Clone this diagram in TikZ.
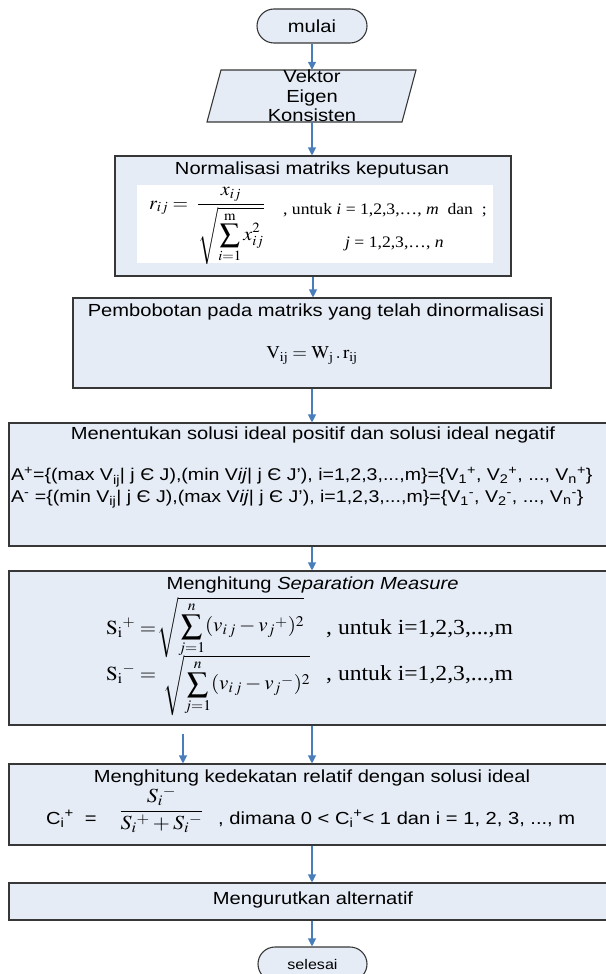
\documentclass[tikz,border=0pt]{standalone}
\usepackage{graphicx}
\usepackage{mathptmx}
\usepackage[no-math]{fontspec}
\setmainfont[FakeStretch=1.15]{Liberation Sans}
\newfontfamily\tnr[FakeStretch=1.1]{Liberation Serif}
\usetikzlibrary{arrows.meta}
\definecolor{boxfill}{RGB}{229,236,246}
\definecolor{boxline}{RGB}{55,55,55}
\definecolor{arrowblue}{RGB}{74,126,187}
\tikzset{
  procbox/.style={draw=boxline, fill=boxfill, line width=1.1pt, inner sep=0pt},
  term/.style={procbox, rounded corners=17pt},
  txt/.style={inner sep=0pt, font=\fontsize{17.5}{19.5}\selectfont, text=black},
  settxt/.style={inner sep=0pt, font=\fontsize{17}{19}\selectfont, text=black},
  smalltxt/.style={inner sep=0pt, font=\fontsize{14}{16}\selectfont, text=black},
  serif/.style={inner sep=0pt, font=\tnr\fontsize{21.5}{24}\selectfont},
  mathtxt/.style={inner sep=0pt, font=\fontsize{20}{24}\selectfont},
  flow/.style={draw=arrowblue, line width=1.1pt, -{Triangle[length=8pt,width=8pt]}},
}
\begin{document}
\begin{tikzpicture}[x=1pt,y=-1pt]
\useasboundingbox (0,0) rectangle (605,974);

% start
\node[term, txt, minimum width=110pt, minimum height=34pt] (mulai) at (312,26) {mulai};

% input parallelogram
\draw[procbox] (221,70) -- (416,70) -- (402,122) -- (207,122) -- cycle;
\node[txt, align=center, minimum height=52pt] (para) at (312,96) {Vektor\\Eigen\\Konsisten};

% normalisation
\node[procbox, minimum width=396pt, minimum height=120pt] (norm) at (313,216) {};
\node[txt] (normtitle) at (312,170) {Normalisasi matriks keputusan};
\node[fill=white, inner sep=0pt, minimum width=356pt, minimum height=78pt] (normimg) at (315,224) {};
\begin{scope}
  \clip (137,185) rectangle (493,263);
  \node[inner sep=0pt, anchor=base west, font=\fontsize{19}{22}\selectfont] (rform) at (149,209)
    {\scalebox{1.05}[1]{$\displaystyle r_{ij} = \;\frac{x_{ij}}{\sqrt{\displaystyle\sum_{i=1}^{\mathrm{m}} x_{ij}^{2}}}$}};
\end{scope}
\node[inner sep=0pt, anchor=base west, font=\tnr\fontsize{16}{19}\selectfont] (untuka) at (283,214)
  {, untuk \textit{i} = 1,2,3,…, \textit{m}~ dan~ ;};
\node[inner sep=0pt, anchor=base west, font=\tnr\fontsize{16}{19}\selectfont] (untukb) at (345,247)
  {\textit{j} = 1,2,3,…, \textit{n}};

% weighting
\node[procbox, minimum width=478pt, minimum height=90pt] (pemb) at (312,343) {};
\node[txt] (pembtitle) at (316,312) {Pembobotan pada matriks yang telah dinormalisasi};
\node[inner sep=0pt, font=\fontsize{18}{21}\selectfont] (vform) at (312,355)
  {\scalebox{1.05}[1]{$\mathrm{V_{ij} = W_{j}\,.\,r_{ij}}$}};

% ideal solutions
\node[procbox, minimum width=606pt, minimum height=123pt] (ment) at (312,484.5) {};
\node[txt] (menttitle) at (313,435) {Menentukan solusi ideal positif dan solusi ideal negatif};
\node[settxt, anchor=west] (aplus) at (11,477)
  {A\textsuperscript{+}=\{(max V\textsubscript{ij}| j Є J),(min V\textit{ij}| j Є J’), i=1,2,3,...,m\}=\{V\textsubscript{1}\textsuperscript{+}, V\textsubscript{2}\textsuperscript{+}, ..., V\textsubscript{n}\textsuperscript{+}\}};
\node[settxt, anchor=west] (aminus) at (11,499)
  {A\textsuperscript{-} =\{(min V\textsubscript{ij}| j Є J),(max V\textit{ij}| j Є J’), i=1,2,3,...,m\}=\{V\textsubscript{1}\textsuperscript{-}, V\textsubscript{2}\textsuperscript{-}, ..., V\textsubscript{n}\textsuperscript{-}\}};

% separation measure
\node[procbox, minimum width=606pt, minimum height=154pt] (sep) at (312,648) {};
\node[txt] (septitle) at (312.5,585) {Menghitung \textit{Separation Measure}};
\node[mathtxt, anchor=base west] (splab) at (106,634)
  {\scalebox{1.05}[1]{$\mathrm{S_{i}}^{+} =$}};
\node[mathtxt, anchor=north west] (sproot) at (157,597)
  {\scalebox{1.05}[1]{$\displaystyle \sqrt{\sum_{j=1}^{n}(v_{i\,j}-v_{j}{}^{+})^{2}}$}};
\node[serif, anchor=base west] (untukc) at (326,634) {, untuk i=1,2,3,...,m};
\node[mathtxt, anchor=base west] (smlab) at (106,680)
  {\scalebox{1.05}[1]{$\mathrm{S_{i}}^{-} =$}};
\node[mathtxt, anchor=north west] (smroot) at (163,655)
  {\scalebox{1.05}[1]{$\displaystyle \sqrt{\sum_{j=1}^{n}(v_{i\,j}-v_{j}{}^{-})^{2}}$}};
\node[serif, anchor=base west] (untukd) at (326,680) {, untuk i=1,2,3,...,m};

% closeness
\node[procbox, minimum width=606pt, minimum height=81pt] (ked) at (312,804.5) {};
\node[txt] (kedtitle) at (312,778) {Menghitung kedekatan relatif dengan solusi ideal};
\node[txt, anchor=base west] (cleft) at (46,824) {C\textsubscript{i}\textsuperscript{+}\ \ =};
\node[mathtxt, anchor=base] (cfrac) at (161.5,816)
  {\scalebox{1.1}[1]{$\displaystyle\frac{S_{i}{}^{-}}{S_{i}{}^{+}+S_{i}{}^{-}}$}};
\node[txt, anchor=base west] (dimana) at (218,824)
  {, dimana 0 < C\textsubscript{i}\textsuperscript{+}< 1 dan i = 1, 2, 3, ..., m};

% ranking
\node[procbox, minimum width=606pt, minimum height=37pt] (meng) at (312,901.5) {};
\node[txt] (mengtitle) at (313,900) {Mengurutkan alternatif};

% end
\node[term, smalltxt, minimum width=109pt, minimum height=34pt] (selesai) at (312.5,964) {selesai};

% connectors
\draw[flow] (mulai.south) -- (mulai.south |- para.north);
\draw[flow] (para.south) -- (para.south |- norm.north);
\draw[flow] (norm.south) -- (norm.south |- pemb.north);
\draw[flow] (pemb.south) -- (pemb.south |- ment.north);
\draw[flow] (ment.south) -- (ment.south |- sep.north);
\draw[flow] (sep.south) -- (sep.south |- ked.north);
\coordinate (free) at (183,734);
\draw[flow] (free) -- (free |- ked.north);
\draw[flow] (ked.south) -- (ked.south |- meng.north);
\draw[flow] (meng.south) -- (meng.south |- selesai.north);
\end{tikzpicture}
\end{document}
